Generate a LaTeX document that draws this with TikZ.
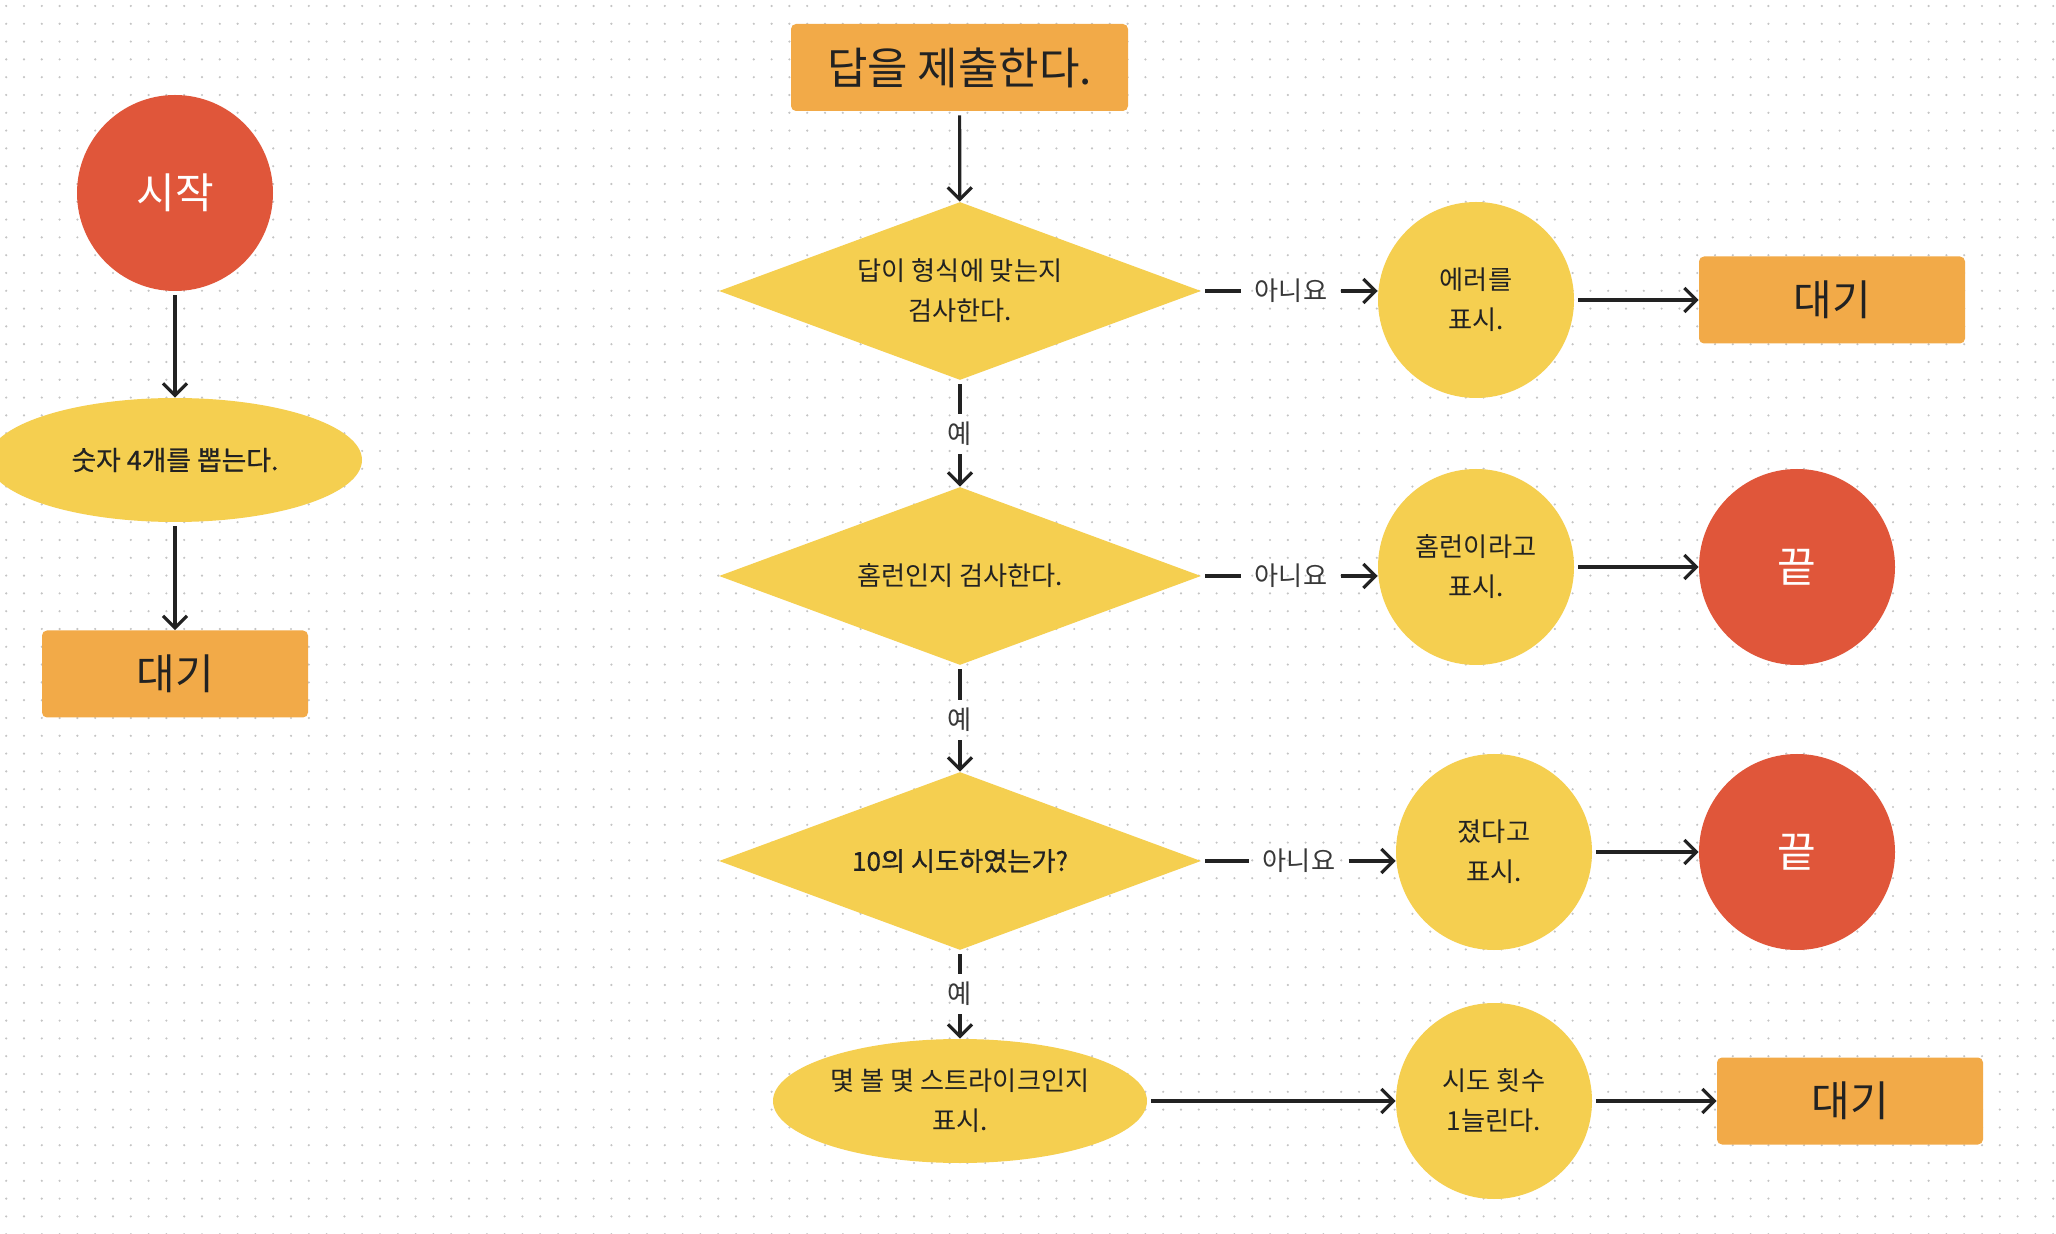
\documentclass[tikz,border=0pt]{standalone}
\usepackage{fontspec}
\setmainfont{Noto Sans CJK KR}
\newfontfamily\medfont{Noto Sans CJK KR}[FakeBold=0.7]
\usetikzlibrary{shapes.geometric,arrows.meta}
\definecolor{cred}{HTML}{E0563A}
\definecolor{cyel}{HTML}{F5CF50}
\definecolor{corg}{HTML}{F2AA48}
\definecolor{ink}{HTML}{222222}
\definecolor{dotc}{HTML}{C4C4C4}
\begin{document}
\begin{tikzpicture}[x=0.5pt,y=-0.5pt,
  every node/.style={text=ink},
  bigtxt/.style={font=\fontsize{21}{24}\selectfont},
  smtxt/.style={font=\fontsize{13.1}{20}\selectfont},
  circnode/.style={circle, minimum size=98pt, inner sep=0pt, align=center, smtxt},
  yelcirc/.style={circnode, fill=cyel},
  redcirc/.style={circnode, fill=cred, text=white, bigtxt},
  ellnode/.style={ellipse, fill=cyel, minimum width=187pt, minimum height=62pt, inner sep=0pt, align=center, smtxt},
  boxnode/.style={rectangle, fill=corg, rounded corners=2.5pt, minimum width=133pt, minimum height=43.5pt, inner sep=0pt, bigtxt},
  dianode/.style={diamond, aspect=2.7, fill=cyel, minimum width=241pt, minimum height=89pt, inner sep=0pt, align=center, smtxt},
  lbl/.style={smtxt, text=ink!90, inner xsep=6.5pt, inner ysep=4pt},
  ln/.style={draw=ink, line width=1.6pt},
  arr/.style={ln, -{Straight Barb[length=6pt,width=12pt]}}
]
\useasboundingbox (0,0) rectangle (2056,1234);
\fill[white] (0,0) rectangle (2056,1234);
\foreach \r in {0,...,69}
  \draw[dotc, line width=1.2pt, line cap=round, dash pattern=on 0pt off 8.9pt] (6.2,{6+17.8*\r}) -- (2056,{6+17.8*\r});

% left column
\node[redcirc] (start) at (175,193) {시작};
\node[ellnode, font=\fontsize{13.4}{20}\medfont] (pick) at (175,460) {숫자 4개를 뽑는다.};
\node[boxnode] (waitA) at (175,674) {대기};
\draw[arr, shorten <=2pt] (start) -- (pick);
\draw[arr, shorten <=2pt] (pick) -- (waitA);

% main column
\node[boxnode, minimum width=168.5pt, font=\fontsize{22}{26}\selectfont] (submit) at (959.5,67.5) {답을 제출한다.};
\node[dianode] (d1) at (960,291) {답이 형식에 맞는지\\검사한다.};
\node[dianode] (d2) at (960,576) {홈런인지 검사한다.};
\node[dianode, font=\fontsize{13.1}{20}\medfont] (d3) at (960,861) {10의 시도하였는가?};
\node[ellnode] (show) at (960,1101) {몇 볼 몇 스트라이크인지\\표시.};

\draw[arr, shorten <=2pt] (submit) -- (d1);

\node[lbl] (y1) at (960,434) {예};
\node[lbl] (y2) at (960,720) {예};
\node[lbl] (y3) at (960,994) {예};
\draw[ln, shorten <=2pt] (d1.south) -- (y1.north);
\draw[arr] (y1.south) -- (d2.north);
\draw[ln, shorten <=2pt] (d2.south) -- (y2.north);
\draw[arr] (y2.south) -- (d3.north);
\draw[ln, shorten <=2pt] (d3.south) -- (y3.north);
\draw[arr] (y3.south) -- (show.north);

% right side
\node[yelcirc] (err) at (1476,300) {에러를\\표시.};
\node[boxnode] (waitB) at (1832,300) {대기};
\node[yelcirc] (hr) at (1476,567) {홈런이라고\\표시.};
\node[redcirc] (endA) at (1797,567) {끝};
\node[yelcirc] (lost) at (1494,852) {졌다고\\표시.};
\node[redcirc] (endB) at (1797,852) {끝};
\node[yelcirc] (inc) at (1494,1101) {시도 횟수\\1늘린다.};
\node[boxnode] (waitC) at (1850,1101) {대기};

\node[lbl] (n1) at (1291,291) {아니요};
\node[lbl] (n2) at (1291,576) {아니요};
\node[lbl] (n3) at (1299,861) {아니요};

\draw[ln, shorten <=2pt] (d1.east) -- (n1.west);
\draw[arr] (n1.east) -- (n1.east -| err.west);
\draw[ln, shorten <=2pt] (d2.east) -- (n2.west);
\draw[arr] (n2.east) -- (n2.east -| hr.west);
\draw[ln, shorten <=2pt] (d3.east) -- (n3.west);
\draw[arr] (n3.east) -- (n3.east -| lost.west);

\draw[arr, shorten <=2pt] (err) -- (waitB);
\draw[arr, shorten <=2pt] (hr) -- (endA);
\draw[arr, shorten <=2pt] (lost) -- (endB);
\draw[arr, shorten <=2pt] (show) -- (inc);
\draw[arr, shorten <=2pt] (inc) -- (waitC);
\end{tikzpicture}
\end{document}
